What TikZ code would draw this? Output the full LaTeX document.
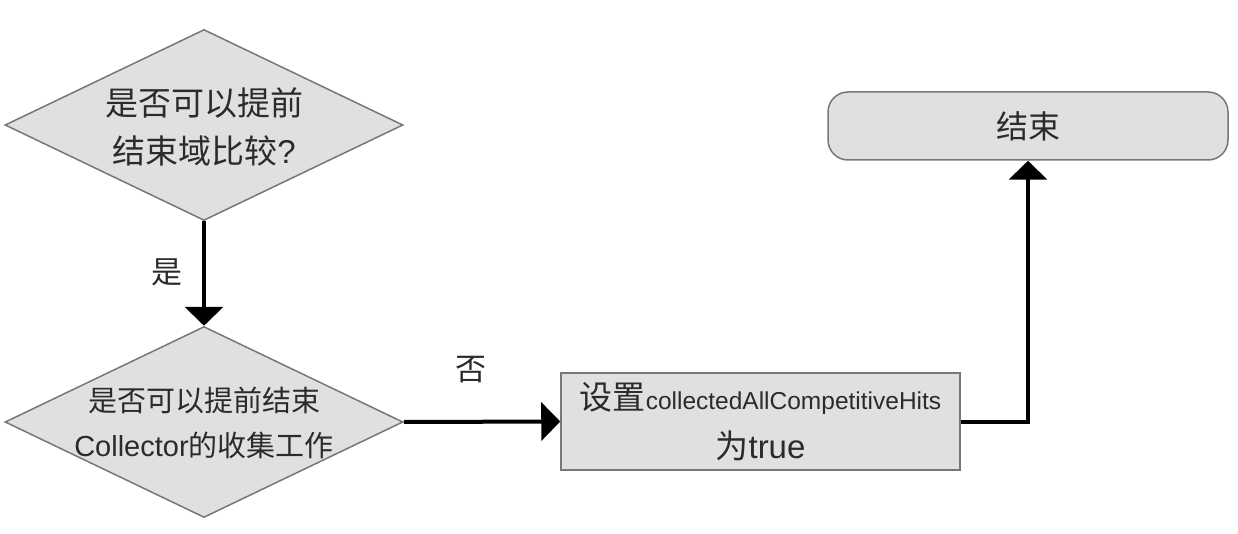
\documentclass[tikz,border=0pt]{standalone}
\usepackage{fontspec}
\setmainfont{Liberation Sans}
\newfontfamily\cjk{Noto Sans CJK SC}
\usetikzlibrary{shapes.geometric,arrows.meta}
\definecolor{boxfill}{HTML}{E0E0E0}
\definecolor{boxline}{HTML}{777777}
\definecolor{txtcol}{HTML}{2B2B2B}
\tikzset{
  dia/.style={diamond, draw=boxline, fill=boxfill, line width=1.5pt, inner sep=0pt,
    minimum width=398pt, minimum height=191pt},
  rectbox/.style={rectangle, draw=boxline, fill=boxfill, line width=1.5pt, inner sep=0pt,
    minimum width=399pt, minimum height=97pt, align=center, text=txtcol},
  endbox/.style={rectangle, rounded corners=20pt, draw=boxline, fill=boxfill, line width=1.5pt,
    inner sep=0pt, minimum width=400pt, minimum height=68pt, text=txtcol},
  txt/.style={align=center, text=txtcol, inner sep=0pt},
  arr/.style={line width=4pt, draw=black, -{Triangle[width=38pt,length=19pt]}},
  lbl/.style={text=txtcol, inner sep=0pt, font=\cjk\fontsize{31}{31}\selectfont},
}
\begin{document}
\begin{tikzpicture}[x=1pt,y=-1pt]
\useasboundingbox (0,0) rectangle (1238,534);
\node[dia] (d1) at (204,125) {};
\node[txt, font=\fontsize{33}{48}\selectfont] (d1t) at (204,127) {{\cjk 是否可以提前}\\{\cjk 结束域比较}?};
\node[dia] (d2) at (204,422) {};
\node[txt, font=\fontsize{29}{45}\selectfont] (d2t) at (204,423) {{\cjk 是否可以提前结束}\\Collector{\cjk 的收集工作}};
\node[rectbox, font=\fontsize{33}{49}\selectfont] (r) at (760.5,421.5) {{\cjk 设置}{\fontsize{24.5}{49}\selectfont collectedAllCompetitiveHits}\\{\cjk 为}true};
\node[endbox, font=\cjk\fontsize{32}{32}\selectfont] (e) at (1028,126) {结束};
\draw[arr] (d1.south) -- (d2.north);
\draw[arr] (d2.east) -- (r.west);
\draw[arr] (r.east) -| (e.south);
\node[lbl] (yes) at (167,272) {是};
\node[lbl] (no) at (471,370) {否};
\end{tikzpicture}
\end{document}
